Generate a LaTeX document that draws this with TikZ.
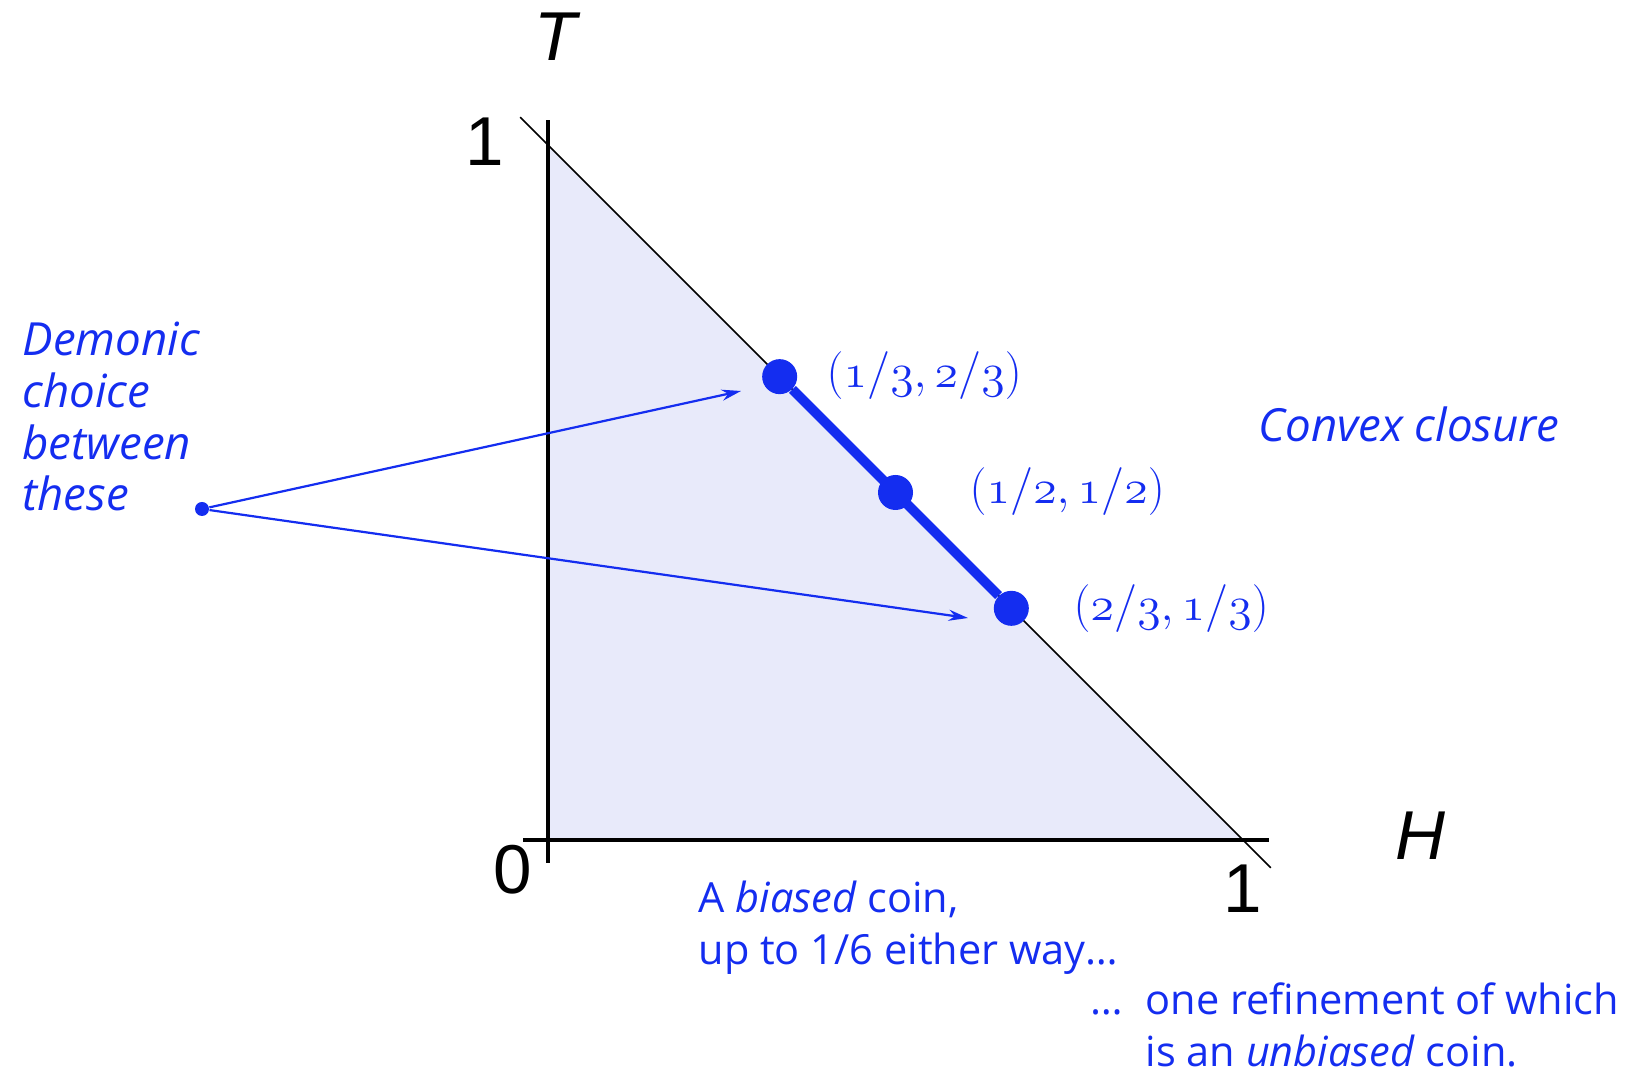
\documentclass[tikz,border=0pt]{standalone}
\usepackage[no-math]{fontspec}
\setmainfont{Liberation Sans}
\newfontfamily\notefont{Open Sans}
\usetikzlibrary{arrows.meta,calc}
\definecolor{demon}{RGB}{20,45,240}
\definecolor{shade}{RGB}{232,234,250}
\tikzset{
 simplex/.style={fill=shade},
 axis/.style={line width=1.5pt},
 edge/.style={line width=.6pt},
 segment/.style={draw=demon,line width=3.5pt},
 bigdot/.style={circle,fill=demon,minimum size=.175in,inner sep=0},
 smalldot/.style={circle,fill=demon,minimum size=.07in,inner sep=0},
 pointer/.style={draw=demon,line width=.8pt,-{Stealth[length=7pt,width=4pt]}},
 ticklabel/.style={font=\fontsize{25}{30}\selectfont,inner sep=0},
 coordlabel/.style={text=demon,font=\fontsize{16}{19}\selectfont,inner sep=0,anchor=west},
 note/.style={text=demon,font=\notefont\fontsize{15}{18.7}\selectfont,align=left,inner sep=0,anchor=base west},
 slantnote/.style={note,font=\notefont\itshape\fontsize{16.5}{18.7}\selectfont}
}
\begin{document}
\begin{tikzpicture}[x=1in,y=1in]
\path[use as bounding box] (0,0) rectangle (8.145,5.395);
\coordinate (O) at (2.74,1.195);
\coordinate (T1) at (2.74,4.67);
\coordinate (H1) at (6.215,1.195);
% probability simplex
\fill[simplex] (O) -- (T1) -- (H1) -- cycle;
\draw[edge] ($(T1)!-.04!(H1)$) -- ($(H1)!-.04!(T1)$);
\draw[axis] ($(O)+(0,-.115)$) -- ($(T1)+(0,.125)$);
\draw[axis] ($(O)+(-.125,0)$) -- ($(H1)+(.13,0)$);
\node[ticklabel] (tlab) at (2.79,5.21) {\textit{T}};
\node[ticklabel] (hlab) at (7.10,1.215) {\textit{H}};
\node[ticklabel] (tone) at (2.425,4.685) {1};
\node[ticklabel] (zero) at (2.565,1.045) {0};
\node[ticklabel] (hone) at (6.215,.95) {1};
% the three coins
\node[bigdot] (p1) at ($(T1)!1/3!(H1)$) {};
\node[bigdot] (p2) at ($(T1)!.5!(H1)$) {};
\node[bigdot] (p3) at ($(T1)!2/3!(H1)$) {};
\draw[segment] (p1) -- (p3);
\node[coordlabel] (lab1) at (4.13,3.515) {$(\mathnormal{1/3},\mathnormal{2/3})$};
\node[coordlabel] (lab2) at (4.845,2.935) {$(\mathnormal{1/2},\mathnormal{1/2})$};
\node[coordlabel] (lab3) at (5.365,2.35) {$(\mathnormal{2/3},\mathnormal{1/3})$};
% demonic choice
\node[smalldot] (chooser) at (1.01,2.85) {};
\coordinate (aim1) at (3.705,3.44);
\coordinate (aim2) at (4.84,2.305);
\draw[pointer] (chooser) -- (aim1);
\draw[pointer] (chooser) -- (aim2);
\node[slantnote] (demonic) at (.11,2.84) {Demonic\\choice\\between\\these};
\node[slantnote] (convex) at (6.29,3.185) {Convex closure};
\node[note] (biased) at (3.49,.575) {A \textit{biased} coin,\\up to 1/6 either way…};
\node[note] (refine) at (5.725,.065) {\llap{…\hspace{8pt}}one refinement of which\\is an \textit{unbiased} coin.};
\end{tikzpicture}
\end{document}
